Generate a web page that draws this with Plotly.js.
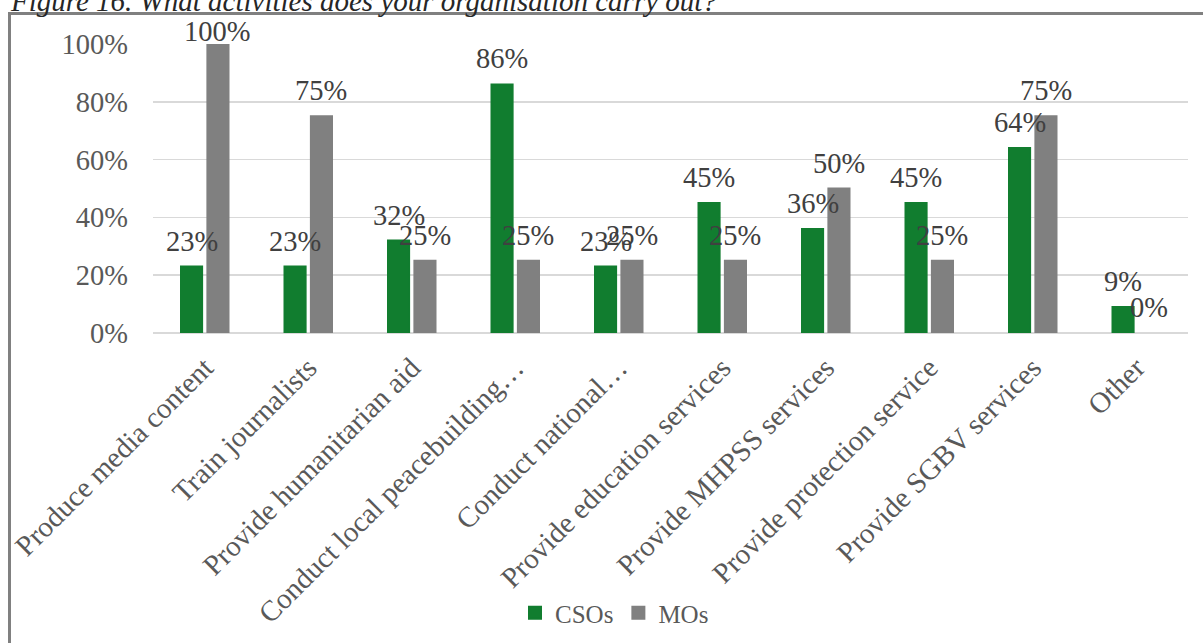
<!DOCTYPE html>
<html>
<head>
<meta charset="utf-8">
<script src="https://cdn.plot.ly/plotly-3.0.1.min.js"></script>
<style>
  html, body { margin: 0; padding: 0; background: #ffffff; }
  #wrap { position: relative; width: 1203px; height: 643px; overflow: hidden; background: #ffffff; }
  #frame { position: absolute; left: 8px; top: 12px; width: 1400px; height: 900px;
           border: 3px solid #808080; box-sizing: border-box; }
  #chart { position: absolute; left: 0; top: 0; width: 1203px; height: 643px; }
</style>
</head>
<body>
<div id="wrap">
  <div id="frame"></div>
  <div id="chart"></div>
</div>
<script>
// Activities carried out, share of respondents (%)
const categories = [
  'Produce media content',
  'Train journalists',
  'Provide humanitarian aid',
  'Conduct local peacebuilding…',
  'Conduct national…',
  'Provide education services',
  'Provide MHPSS services',
  'Provide protection service',
  'Provide SGBV services',
  'Other'
];
const csoValues = [23, 23, 32, 86, 23, 45, 36, 45, 64, 9];
const moValues  = [100, 75, 25, 25, 25, 25, 50, 25, 75, 0];
const seriesNames = ['CSOs', 'MOs'];
const yTickValues = [0, 20, 40, 60, 80, 100];
const caption = 'Figure 16. What activities does your organisation carry out?';

const W = 1203, H = 643;
const margin = { l: 153, r: 15, t: 44, b: 310 };
const plotW = W - margin.l - margin.r;
const plotH = H - margin.t - margin.b;
const barGap = 0.49;
const groupGap = 0.2;

const GREEN = '#117D2F';
const GREY = '#808080';
const FONT = 'Liberation Serif, Cambria, serif';
const SIZE = 28.5;

// horizontal offset of each bar's centre from its category centre, in px
const catPx = plotW / categories.length;
const barOffset = catPx * (1 - barGap) / 4;

// outline in the fill colour; none on empty bars
const outline = vals => vals.map(v => (v > 0 ? 2 : 0));

const traces = [
  { type: 'bar', name: seriesNames[0], x: categories, y: csoValues,
    marker: { color: GREEN, line: { color: GREEN, width: outline(csoValues) } }, hoverinfo: 'skip' },
  { type: 'bar', name: seriesNames[1], x: categories, y: moValues,
    marker: { color: GREY, line: { color: GREY, width: outline(moValues) } }, hoverinfo: 'skip' }
];

// value labels above the bars
const labelFont = { family: FONT, size: SIZE, color: '#404040' };
const annotations = [];
function addLabels(values, sign) {
  values.forEach((v, i) => {
    annotations.push({
      x: categories[i], y: v, xref: 'x', yref: 'y',
      text: v + '%', showarrow: false,
      xanchor: 'center', yanchor: 'bottom',
      xshift: sign * barOffset,
      yshift: v >= 100 ? -5 : 8,
      font: labelFont
    });
  });
}
addLabels(csoValues, -1);
addLabels(moValues, 1);

// figure caption, partly cut by the top edge
annotations.push({
  text: '<i>' + caption + '</i>', showarrow: false,
  xref: 'paper', yref: 'paper',
  x: (8 - margin.l) / plotW, xanchor: 'left',
  y: 1 + (margin.t - 19) / plotH, yanchor: 'bottom',
  font: { family: FONT, size: 29, color: '#262626' }
});

const layout = {
  width: W, height: H,
  margin: margin,
  paper_bgcolor: 'rgba(0,0,0,0)',
  plot_bgcolor: 'rgba(0,0,0,0)',
  barmode: 'group',
  bargap: barGap,
  bargroupgap: groupGap,
  showlegend: true,
  legend: {
    orientation: 'h',
    xref: 'container', yref: 'container',
    x: 515 / W, xanchor: 'left',
    y: 1 - 613 / H, yanchor: 'middle',
    font: { family: FONT, size: 25, color: '#595959' },
    bgcolor: 'rgba(0,0,0,0)',
    itemwidth: 30,
    itemclick: false, itemdoubleclick: false
  },
  xaxis: {
    type: 'category',
    automargin: false,
    tickangle: -45,
    tickfont: { family: FONT, size: 29, color: '#595959' },
    ticklabelstandoff: 11,
    showgrid: false,
    showline: false,
    ticks: ''
  },
  yaxis: {
    automargin: false,
    range: [0, 100],
    tickvals: yTickValues,
    ticktext: yTickValues.map(v => v + '%'),
    tickfont: { family: FONT, size: SIZE, color: '#595959' },
    ticklabelstandoff: 24,
    showgrid: true,
    gridcolor: '#d9d9d9',
    gridwidth: 1.5,
    zeroline: true,
    zerolinecolor: '#d9d9d9',
    zerolinewidth: 1.5,
    showline: false,
    ticks: ''
  },
  annotations: annotations
};

Plotly.newPlot('chart', traces, layout, { displayModeBar: false, staticPlot: true });
</script>
</body>
</html>
